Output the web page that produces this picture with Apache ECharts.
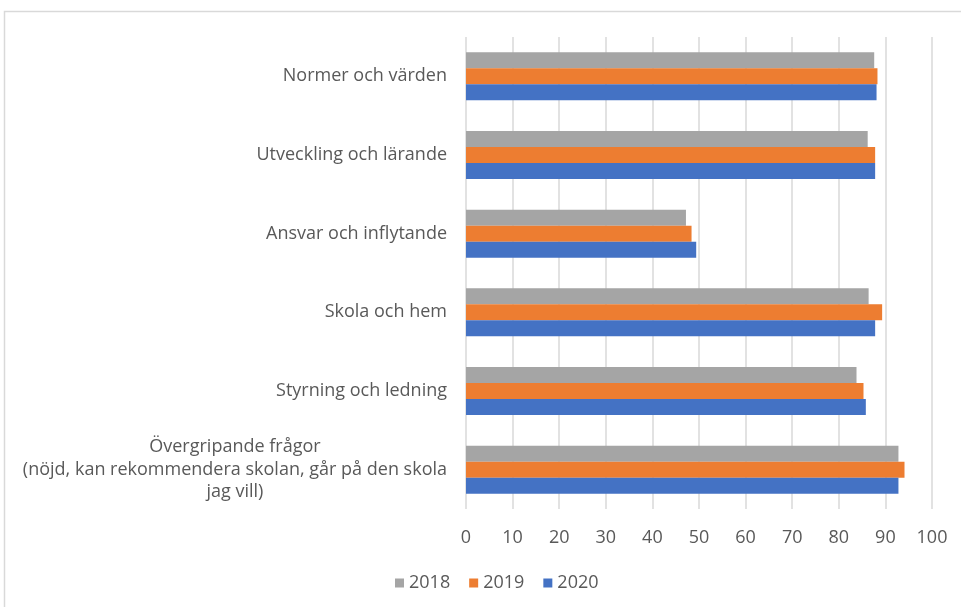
<!DOCTYPE html>
<html>
<head>
<meta charset="utf-8">
<script src="https://cdn.jsdelivr.net/npm/echarts@6/dist/echarts.min.js"></script>
<style>
html,body{margin:0;padding:0;background:#fff;}
#c{width:961px;height:607px;}
</style>
</head>
<body>
<div id="c"></div>
<script>
const categories = [
  'Normer och värden',
  'Utveckling och lärande',
  'Ansvar och inflytande',
  'Skola och hem',
  'Styrning och ledning',
  'Övergripande frågor\n(nöjd, kan rekommendera skolan, går på den skola\njag vill)'
];
const seriesNames = ['2018', '2019', '2020'];
const values2018 = [87.6, 86.2, 47.2, 86.4, 83.8, 92.8];
const values2019 = [88.3, 87.8, 48.4, 89.3, 85.3, 94.1];
const values2020 = [88.1, 87.8, 49.4, 87.8, 85.8, 92.8];
const xTicks = [0, 10, 20, 30, 40, 50, 60, 70, 80, 90, 100];

const colors = ['#A5A5A5', '#ED7D31', '#4472C4'];
const FONT = 'Open Sans';
const TXT = '#595959';
const FS = 18;

const chart = echarts.init(document.getElementById('c'));
const allVals = [values2018, values2019, values2020];
chart.setOption({
  animation: false,
  color: colors,
  textStyle: { fontFamily: FONT },
  graphic: [{
    type: 'rect',
    shape: { x: 4.5, y: 11.5, width: 1200, height: 1200 },
    style: { fill: 'none', stroke: '#d9d9d9', lineWidth: 1.5 },
    silent: true
  }],
  grid: { left: 466, right: 29, top: 37, bottom: 98, containLabel: false },
  legend: {
    data: seriesNames,
    left: 390,
    top: 569,
    icon: 'rect',
    itemWidth: 9,
    itemHeight: 9,
    itemGap: 19,
    textStyle: { color: TXT, fontSize: FS, fontFamily: FONT }
  },
  xAxis: {
    type: 'value',
    min: xTicks[0],
    max: xTicks[xTicks.length - 1],
    interval: xTicks[1] - xTicks[0],
    axisLine: { show: false },
    axisTick: { show: false },
    axisLabel: { color: TXT, fontSize: FS, margin: 20, fontFamily: FONT },
    splitLine: { lineStyle: { color: '#d9d9d9', width: 1.5 } }
  },
  yAxis: {
    type: 'category',
    inverse: true,
    data: categories,
    axisLine: { show: false },
    axisTick: { show: false },
    axisLabel: {
      color: TXT,
      fontSize: FS,
      margin: 19,
      fontFamily: FONT,
      formatter: function (v) {
        if (v.indexOf('\n') >= 0) {
          return v.split('\n').map(s => '{c|' + s + '}').join('\n');
        }
        return v;
      },
      rich: {
        c: { align: 'center', color: TXT, fontSize: FS, fontFamily: FONT, lineHeight: 22.5 }
      }
    }
  },
  series: seriesNames.map((n, i) => ({
    name: n,
    type: 'bar',
    data: allVals[i],
    barWidth: 16,
    barGap: '0%',
    itemStyle: { color: colors[i] }
  }))
});
</script>
</body>
</html>
